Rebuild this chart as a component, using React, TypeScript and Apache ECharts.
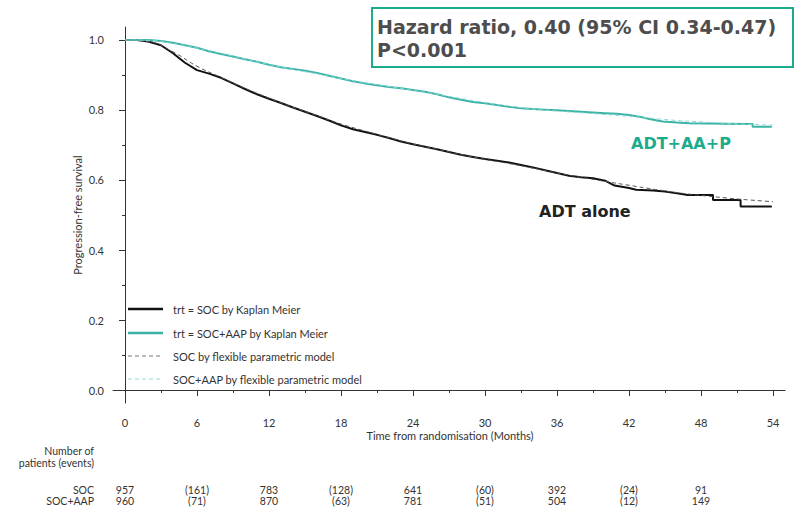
import React, { useEffect, useRef } from "react";
import * as echarts from "echarts";

// ---------- data ----------
const xMajorTicks = [0, 6, 12, 18, 24, 30, 36, 42, 48, 54];
const xMinorTicks = [3, 9, 15, 21, 27, 33, 39, 45, 51];
const yMajorTicks = [0, 0.2, 0.4, 0.6, 0.8, 1.0];
const yMinorTicks = [0.1, 0.3, 0.5, 0.7, 0.9];

// Kaplan-Meier, SOC (ADT alone): [month, survival]
const kmSOC: [number, number][] = [
  [0, 1.0], [1, 1.0], [1.5, 0.998], [2, 0.995], [3, 0.985], [4, 0.962], [5, 0.935],
  [6, 0.914], [7, 0.904], [8, 0.892], [9, 0.876], [10, 0.86], [11, 0.845], [12, 0.832],
  [13, 0.82], [14, 0.807], [15, 0.795], [16, 0.783], [17, 0.77], [18, 0.756], [19, 0.745],
  [20, 0.737], [21, 0.729], [22, 0.72], [23, 0.71], [24, 0.702], [25, 0.695], [26, 0.688],
  [27, 0.68], [28, 0.672], [29, 0.666], [30, 0.66], [31, 0.655], [32, 0.65], [33, 0.643],
  [34, 0.636], [35, 0.628], [36, 0.62], [37, 0.612], [38, 0.608], [39, 0.605], [40, 0.598],
  [40.8, 0.584], [42, 0.577], [42.6, 0.572], [44, 0.57], [45, 0.567], [46, 0.562],
  [46.9, 0.557], [49, 0.557], [49, 0.543], [51.3, 0.543], [51.3, 0.524], [53.9, 0.524],
];

// Kaplan-Meier, SOC+AAP (ADT+AA+P)
const kmAAP: [number, number][] = [
  [0, 1.0], [2, 1.0], [3, 0.997], [4, 0.992], [5, 0.985], [6, 0.978], [7, 0.968],
  [8, 0.96], [9, 0.953], [10, 0.945], [11, 0.938], [12, 0.929], [13, 0.922], [14, 0.917],
  [15, 0.912], [16, 0.906], [17, 0.898], [18, 0.89], [19, 0.882], [20, 0.876], [21, 0.871],
  [22, 0.866], [23, 0.862], [24, 0.857], [25, 0.852], [26, 0.845], [27, 0.836], [28, 0.829],
  [29, 0.823], [30, 0.819], [31, 0.814], [32, 0.809], [33, 0.805], [34, 0.803], [35, 0.801],
  [36, 0.799], [37, 0.797], [38, 0.795], [39, 0.793], [40, 0.791], [41, 0.789], [42, 0.786],
  [43, 0.78], [43.7, 0.774], [44.8, 0.767], [46, 0.764], [47, 0.762], [50, 0.761],
  [52.3, 0.76], [52.3, 0.752], [53.9, 0.752],
];

// Flexible parametric model fits
const fpmSOC: [number, number][] = [
  [0, 1.0], [2, 0.995], [4, 0.966], [6, 0.925], [8, 0.893], [10, 0.862], [12, 0.834],
  [14, 0.808], [16, 0.784], [18, 0.76], [20, 0.74], [22, 0.721], [24, 0.703], [26, 0.688],
  [28, 0.673], [30, 0.659], [32, 0.647], [34, 0.634], [36, 0.62], [38, 0.608], [40, 0.596],
  [42, 0.585], [44, 0.574], [46, 0.564], [48, 0.556], [50, 0.549], [52, 0.543], [54, 0.538],
];
const fpmAAP: [number, number][] = [
  [0, 1.0], [2, 0.999], [4, 0.99], [6, 0.977], [8, 0.962], [10, 0.946], [12, 0.93],
  [14, 0.916], [16, 0.903], [18, 0.89], [20, 0.878], [22, 0.867], [24, 0.856], [26, 0.845],
  [28, 0.833], [30, 0.821], [32, 0.811], [34, 0.803], [36, 0.797], [38, 0.792], [40, 0.787],
  [42, 0.782], [44, 0.776], [46, 0.77], [48, 0.766], [50, 0.762], [52, 0.759], [54, 0.757],
];

// Number at risk (events) table
const riskTimes = [0, 6, 12, 18, 24, 30, 36, 42, 48];
const riskSOC = ["957", "(161)", "783", "(128)", "641", "(60)", "392", "(24)", "91"];
const riskAAP = ["960", "(71)", "870", "(63)", "781", "(51)", "504", "(12)", "149"];

const legendItems = [
  "trt = SOC by Kaplan Meier",
  "trt = SOC+AAP by Kaplan Meier",
  "SOC by flexible parametric model",
  "SOC+AAP by flexible parametric model",
];

// ---------- styles ----------
const TEAL_LINE = "#3bb4a7";
const TEAL_TEXT = "#1dab8e";
const AXIS = "#333";
const SANS = "Lato, 'Open Sans', sans-serif";
const BOLD = "'DejaVu Sans', Verdana, sans-serif";

export default function App() {
  const ref = useRef<HTMLDivElement>(null);

  useEffect(() => {
    if (!ref.current) return;
    const chart = echarts.init(ref.current, undefined, { renderer: "svg" });

    const baseX = {
      type: "value",
      min: -1,
      max: 55,
      splitLine: { show: false },
    };
    const baseY = {
      type: "value",
      min: -0.0371,
      max: 1.0371,
      splitLine: { show: false },
    };

    chart.setOption({
      animation: false,
      backgroundColor: "#fff",
      grid: { left: 113, right: 11, top: 27, bottom: 109, containLabel: false },
      xAxis: [
        {
          ...baseX,
          position: "bottom",
          axisLine: { show: true, lineStyle: { color: AXIS, width: 1 } },
          axisTick: { show: true, length: 6, customValues: xMajorTicks, lineStyle: { color: AXIS } },
          axisLabel: {
            show: true,
            customValues: xMajorTicks,
            margin: 14,
            color: "#333",
            fontFamily: SANS,
            fontSize: 11,
          },
        },
        {
          ...baseX,
          position: "bottom",
          axisLine: { show: false },
          axisTick: { show: true, length: 3, customValues: xMinorTicks, lineStyle: { color: AXIS } },
          axisLabel: { show: false },
        },
      ],
      yAxis: [
        {
          ...baseY,
          position: "left",
          axisLine: { show: true, lineStyle: { color: AXIS, width: 1 } },
          axisTick: { show: true, length: 6, customValues: yMajorTicks, lineStyle: { color: AXIS } },
          axisLabel: {
            show: true,
            customValues: yMajorTicks,
            margin: 9,
            color: "#333",
            fontFamily: SANS,
            fontSize: 11,
            formatter: (v: number) => v.toFixed(1),
          },
        },
        {
          ...baseY,
          position: "left",
          axisLine: { show: false },
          axisTick: { show: true, length: 3, customValues: yMinorTicks, lineStyle: { color: AXIS } },
          axisLabel: { show: false },
        },
      ],
      series: [
        {
          name: legendItems[0],
          type: "line",
          data: kmSOC,
          showSymbol: false,
          lineStyle: { color: "#111", width: 2 },
          z: 2,
        },
        {
          name: legendItems[1],
          type: "line",
          data: kmAAP,
          showSymbol: false,
          lineStyle: { color: TEAL_LINE, width: 2 },
          z: 2,
        },
        {
          name: legendItems[2],
          type: "line",
          data: fpmSOC,
          smooth: true,
          showSymbol: false,
          lineStyle: { color: "#555", width: 1, type: [4, 3] },
          z: 3,
        },
        {
          name: legendItems[3],
          type: "line",
          data: fpmAAP,
          smooth: true,
          showSymbol: false,
          lineStyle: { color: "#8fd6d4", width: 1, type: [4, 3] },
          z: 3,
        },
      ],
    });

    const px = (t: number) => chart.convertToPixel({ xAxisIndex: 0 }, t) as number;

    const legendStyles = [
      { stroke: "#111", lineWidth: 2.5 },
      { stroke: TEAL_LINE, lineWidth: 2.5 },
      { stroke: "#777", lineWidth: 1, lineDash: [4, 3] },
      { stroke: "#9ad8d8", lineWidth: 1, lineDash: [4, 3] },
    ];
    const legendY = [309, 333, 356, 379];
    const small = `10.5px ${SANS}`;
    const mid = `11px ${SANS}`;

    const graphic: any[] = [];
    // hazard ratio box
    graphic.push({
      type: "rect",
      shape: { x: 372, y: 8, width: 421, height: 59 },
      style: { fill: "#fff", stroke: TEAL_TEXT, lineWidth: 2 },
      z: 10,
    });
    graphic.push({
      type: "text",
      x: 377,
      y: 27,
      style: {
        text: "Hazard ratio, 0.40 (95% CI 0.34-0.47)",
        fill: "#4d4d4d",
        font: `bold 19px ${BOLD}`,
        verticalAlign: "middle",
      },
      z: 11,
    });
    graphic.push({
      type: "text",
      x: 377,
      y: 50,
      style: { text: "P<0.001", fill: "#4d4d4d", font: `bold 19px ${BOLD}`, verticalAlign: "middle" },
      z: 11,
    });
    // curve labels
    graphic.push({
      type: "text",
      x: 631,
      y: 143,
      style: { text: "ADT+AA+P", fill: TEAL_TEXT, font: `bold 16px ${BOLD}`, verticalAlign: "middle" },
      z: 11,
    });
    graphic.push({
      type: "text",
      x: 539,
      y: 211,
      style: { text: "ADT alone", fill: "#222", font: `bold 16px ${BOLD}`, verticalAlign: "middle" },
      z: 11,
    });
    // legend
    legendItems.forEach((name, i) => {
      graphic.push({
        type: "line",
        shape: { x1: 128, y1: legendY[i], x2: 163, y2: legendY[i] },
        style: { ...legendStyles[i] },
        z: 11,
      });
      graphic.push({
        type: "text",
        x: 173,
        y: legendY[i],
        style: { text: name, fill: "#333", font: mid, verticalAlign: "middle" },
        z: 11,
      });
    });
    // axis titles
    graphic.push({
      type: "text",
      x: 450,
      y: 435,
      style: {
        text: "Time from randomisation (Months)",
        fill: "#333",
        font: mid,
        align: "center",
        verticalAlign: "middle",
      },
    });
    graphic.push({
      type: "text",
      x: 77,
      y: 215,
      rotation: Math.PI / 2,
      style: {
        text: "Progression-free survival",
        fill: "#333",
        font: mid,
        align: "center",
        verticalAlign: "middle",
      },
    });
    // risk table
    graphic.push({
      type: "text",
      x: 94,
      y: 451,
      style: { text: "Number of", fill: "#333", font: small, align: "right", verticalAlign: "middle" },
    });
    graphic.push({
      type: "text",
      x: 94,
      y: 463,
      style: { text: "patients (events)", fill: "#333", font: small, align: "right", verticalAlign: "middle" },
    });
    graphic.push({
      type: "text",
      x: 94,
      y: 490,
      style: { text: "SOC", fill: "#333", font: small, align: "right", verticalAlign: "middle" },
    });
    graphic.push({
      type: "text",
      x: 94,
      y: 501,
      style: { text: "SOC+AAP", fill: "#333", font: small, align: "right", verticalAlign: "middle" },
    });
    riskTimes.forEach((t, i) => {
      const x = px(t);
      graphic.push({
        type: "text",
        x,
        y: 490,
        style: { text: riskSOC[i], fill: "#333", font: small, align: "center", verticalAlign: "middle" },
      });
      graphic.push({
        type: "text",
        x,
        y: 501,
        style: { text: riskAAP[i], fill: "#333", font: small, align: "center", verticalAlign: "middle" },
      });
    });

    chart.setOption({ graphic }, { replaceMerge: ["graphic"] });

    return () => chart.dispose();
  }, []);

  return <div ref={ref} style={{ width: 796, height: 512, position: "absolute", left: 0, top: 0 }} />;
}
